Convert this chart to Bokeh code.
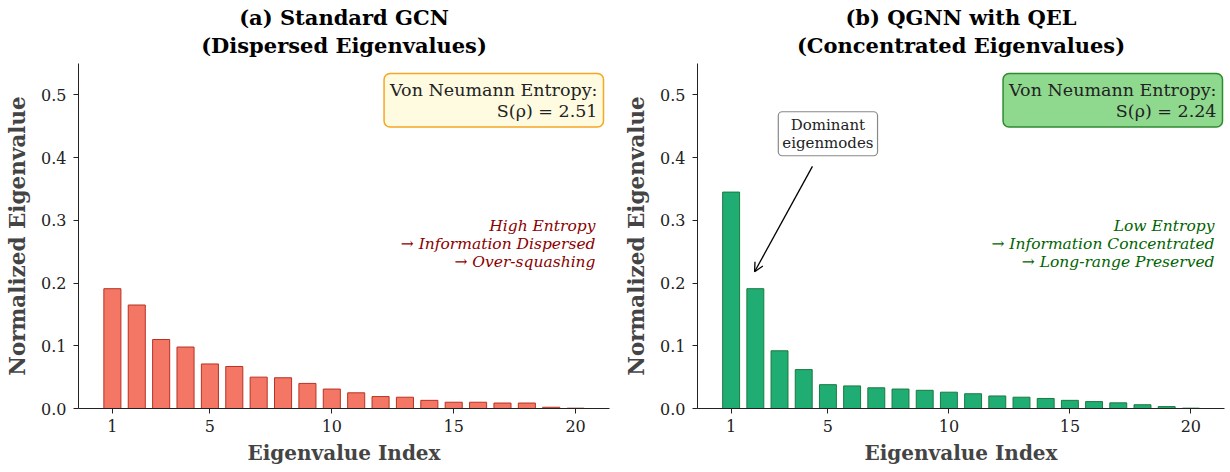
from bokeh.plotting import figure
from bokeh.layouts import row
from bokeh.models import (Range1d, Title, Label, Arrow, OpenHead, FixedTicker,
                          CustomJSTickFormatter)
from bokeh.embed import file_html
from bokeh.resources import INLINE

# ---- data ----
idx = list(range(1, 21))
gcn_vals = [0.191, 0.165, 0.110, 0.098, 0.071, 0.067, 0.050, 0.049, 0.040, 0.031,
            0.025, 0.019, 0.018, 0.013, 0.010, 0.010, 0.0087, 0.0087, 0.002, 0.0005]
qgnn_vals = [0.345, 0.191, 0.092, 0.062, 0.038, 0.036, 0.033, 0.031, 0.029, 0.026,
             0.0235, 0.020, 0.018, 0.016, 0.013, 0.011, 0.009, 0.006, 0.003, 0.0005]
x_ticks = [1, 5, 10, 15, 20]
y_ticks = [0.0, 0.1, 0.2, 0.3, 0.4, 0.5]
titles_a = ["(a) Standard GCN", "(Dispersed Eigenvalues)"]
titles_b = ["(b) QGNN with QEL", "(Concentrated Eigenvalues)"]
entropy_a = "Von Neumann Entropy:\nS(\u03c1) = 2.51"
entropy_b = "Von Neumann Entropy:\nS(\u03c1) = 2.24"
note_a = "High Entropy\n\u2192 Information Dispersed\n\u2192 Over-squashing"
note_b = "Low Entropy\n\u2192 Information Concentrated\n\u2192 Long-range Preserved"
annot_text = "Dominant\neigenmodes"
annot_xy = (1.97, 0.218)
annot_start = (4.36, 0.386)
annot_text_xy = (5.0, 0.438)

FONT = "DejaVu Serif"
H = 472


def make_panel(vals, titles, fill, edge, ent_text, ent_fill, ent_edge, note, note_color,
               width, border_left, border_right):
    p = figure(width=width, height=H, output_backend="svg", toolbar_location=None,
               x_range=Range1d(-0.39, 21.39), y_range=Range1d(0, 0.55),
               min_border_left=border_left, min_border_right=border_right,
               min_border_top=63, min_border_bottom=64, title=None)
    p.add_layout(Title(text=titles[1], align="center", text_font=FONT, text_font_size="21px",
                       text_font_style="bold", text_color="black", standoff=12), "above")
    p.add_layout(Title(text=titles[0], align="center", text_font=FONT, text_font_size="21px",
                       text_font_style="bold", text_color="black", standoff=-10), "above")
    p.vbar(x=idx, top=vals, width=0.7, fill_color=fill, line_color=edge, line_width=1)
    p.outline_line_color = None
    p.xgrid.grid_line_color = None
    p.ygrid.grid_line_color = None
    for ax in (p.xaxis[0], p.yaxis[0]):
        ax.major_label_text_font = FONT
        ax.major_label_text_font_size = "16px"
        ax.major_label_text_color = "#222222"
        ax.axis_label_text_font = FONT
        ax.axis_label_text_font_style = "bold"
        ax.axis_line_color = "#222222"
        ax.major_tick_line_color = "#222222"
        ax.major_tick_out = 5
        ax.major_tick_in = 0
        ax.minor_tick_out = 0
        ax.minor_tick_in = 0
    p.xaxis.axis_label_text_font_size = "20px"
    p.yaxis.axis_label_text_font_size = "21.5px"
    p.xaxis.ticker = FixedTicker(ticks=x_ticks)
    p.yaxis.ticker = FixedTicker(ticks=y_ticks)
    p.yaxis.formatter = CustomJSTickFormatter(code="return tick.toFixed(1);")
    p.xaxis.axis_label = "Eigenvalue Index"
    p.yaxis.axis_label = "Normalized Eigenvalue"
    p.yaxis.axis_label_standoff = 8
    p.yaxis.major_label_standoff = 7
    p.xaxis.axis_label_standoff = 6
    p.xaxis.major_label_standoff = 6

    ent = Label(x=525, y=335, x_units="screen", y_units="screen",
                text=ent_text, text_font=FONT, text_font_size="17.5px", text_align="right",
                text_baseline="top", text_color="#222222", text_line_height=1.08,
                background_fill_color=ent_fill, border_line_color=ent_edge, border_line_width=1.5,
                padding=6, border_radius=6)
    p.add_layout(ent)
    nt = Label(x=517, y=0.306, x_units="screen", y_units="data",
               text=note, text_font=FONT, text_font_size="15.5px", text_font_style="italic",
               text_align="right", text_baseline="top", text_color=note_color,
               text_line_height=1.02)
    p.add_layout(nt)
    return p


p1 = make_panel(gcn_vals, titles_a, "#f47766", "#b83224", entropy_a, "#fffbe0", "#f5a623",
                note_a, "#8b0000", 615, 78, 6)
p2 = make_panel(qgnn_vals, titles_b, "#20ad74", "#1a7a3e", entropy_b, "#8fd98f", "#2e8b2e",
                note_b, "#006400", 615, 82, 6)

p2.add_layout(Arrow(end=OpenHead(size=9, line_color="black", line_width=1.3),
                    x_start=annot_start[0], y_start=annot_start[1],
                    x_end=annot_xy[0], y_end=annot_xy[1], line_color="black", line_width=1.3))
p2.add_layout(Label(x=annot_text_xy[0], y=annot_text_xy[1], text=annot_text, text_font=FONT,
                    text_font_size="15px", text_align="center", text_baseline="middle",
                    text_color="#222222", background_fill_color="white", text_line_height=1.0,
                    border_line_color="#888888", border_line_width=1.2, padding=4, border_radius=4))

layout = row(p1, p2)
open("out.html", "w").write(file_html(layout, INLINE))
